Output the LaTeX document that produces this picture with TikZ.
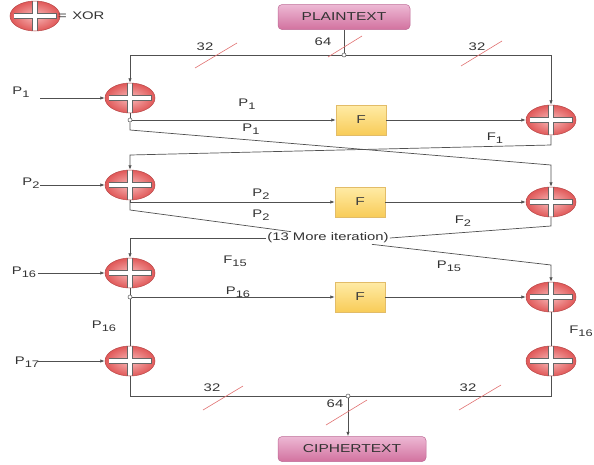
\documentclass[tikz,border=0pt]{standalone}
\usepackage{fontspec}
\usepackage{graphicx}
\setmainfont{Liberation Sans}
\usetikzlibrary{shapes.geometric,arrows.meta}
\newcommand\sx[1]{\scalebox{1.35}[1]{#1}}
\newcommand\sbs[1]{\raisebox{-2.8pt}{\fontsize{9.5}{10}\selectfont #1}}
\definecolor{lncol}{HTML}{505050}
\definecolor{xin}{HTML}{F8B8B8}
\definecolor{xout}{HTML}{E05858}
\definecolor{xbd}{HTML}{B84848}
\definecolor{ftop}{HTML}{FFEBA6}
\definecolor{fbot}{HTML}{F8CC58}
\definecolor{fbd}{HTML}{E2BC68}
\definecolor{ptop}{HTML}{EDB8D4}
\definecolor{pbot}{HTML}{D2729F}
\definecolor{pbd}{HTML}{BE6A96}
\definecolor{slash}{HTML}{E07070}
\tikzset{
  xor/.style={ellipse, minimum width=50pt, minimum height=30pt, inner sep=0pt,
    draw=xbd, line width=0.5pt, inner color=xin, outer color=xout,
    path picture={
      \coordinate (pc) at (path picture bounding box.center);
      \filldraw[white, draw=black!60, line width=0.8pt] ([xshift=-21pt,yshift=-2.6pt]pc) rectangle ([xshift=21pt,yshift=2.6pt]pc);
      \filldraw[white, draw=black!60, line width=0.8pt] ([xshift=-2.6pt,yshift=-16pt]pc) rectangle ([xshift=2.6pt,yshift=16pt]pc);
      \fill[white] ([xshift=-20.6pt,yshift=-2.1pt]pc) rectangle ([xshift=20.6pt,yshift=2.1pt]pc);
      \fill[white] ([xshift=-2.1pt,yshift=-16pt]pc) rectangle ([xshift=2.1pt,yshift=16pt]pc);
    }},
  fbox/.style={rectangle, minimum width=50pt, minimum height=30pt, inner sep=0pt,
    draw=fbd, line width=0.5pt, top color=ftop, bottom color=fbot,
    font=\fontsize{11.5}{13}\selectfont, text=black!75},
  tbox/.style={rectangle, rounded corners=4pt, minimum height=25pt, inner sep=0pt,
    draw=pbd, line width=0.5pt, top color=ptop, bottom color=pbot,
    font=\fontsize{11.5}{13}\selectfont, text=black!80},
  ln/.style={draw=lncol, line width=0.7pt},
  arr/.style={ln, -{Latex[length=4.5pt,width=3.5pt]}},
  dot/.style={circle, draw=lncol, fill=white, line width=0.5pt, minimum size=4pt, inner sep=0pt},
  lbl/.style={font=\fontsize{11}{12}\selectfont, text=black!80, inner sep=0pt},
  sl/.style={draw=slash, line width=0.6pt},
}
\begin{document}
\begin{tikzpicture}[x=1pt,y=-1pt]
\useasboundingbox (0,0) rectangle (594,464);
% legend
\node[xor] (lx) at (35,16) {};
\node[lbl, anchor=west] (lxt) at (58,16) {\sx{=\hspace{4pt}XOR}};
% boxes
\node[tbox, minimum width=132pt] (plain) at (344,17) {\sx{PLAINTEXT}};
\node[tbox, minimum width=148pt] (cipher) at (352,449) {\sx{CIPHERTEXT}};
% xor nodes
\node[xor] (L1) at (130,98) {};
\node[xor] (R1) at (551,120) {};
\node[xor] (L2) at (130,185) {};
\node[xor] (R2) at (551,202) {};
\node[xor] (L3) at (130,273) {};
\node[xor] (R3) at (551,297) {};
\node[xor] (L4) at (130,361) {};
\node[xor] (R4) at (551,361) {};
% F boxes
\node[fbox] (F1) at (361,120) {\sx{F}};
\node[fbox] (F2) at (360,202) {\sx{F}};
\node[fbox] (F3) at (360,297) {\sx{F}};
% junctions
\node[dot] (j1) at (344,55) {};
\node[dot] (c1) at (130,120) {};
\node[dot] (c3) at (130,297) {};
\node[dot] (j2) at (348,396) {};
% iteration text
\node[lbl, fill=white, inner sep=1pt] (more) at (328,238) {\sx{(13 More iteration)}};
% input coordinates
\coordinate (i1) at (40,98);
\coordinate (i2) at (40,185);
\coordinate (i3) at (38,273);
\coordinate (i4) at (38,361);
% top distribution
\draw[ln] (plain) -- (j1);
\draw[arr] (j1) -| (L1);
\draw[arr] (j1) -| (R1);
% inputs
\draw[arr] (i1) -- (L1);
\draw[arr] (i2) -- (L2);
\draw[arr] (i3) -- (L3);
\draw[arr] (i4) -- (L4);
% round 1
\draw[ln] (L1) -- (c1);
\draw[arr] (c1) -- (F1);
\draw[arr] (F1) -- (R1);
\draw[arr] (c1) -- (130,130) -- (551,165) -- (R2);
\draw[arr] (R1) -- (551,145) -- (130,155) -- (L2);
% round 2
\draw[arr] (L2) |- (F2);
\draw[arr] (F2) -- (R2);
\draw[ln] (L2.south) -- (130,210) -- ([xshift=25pt]more.north west);
\draw[ln] (R2) -- (551,226) -- (more.east);
\draw[arr] (more.west) -| (L3);
\draw[arr] ([xshift=-18pt]more.south east) -- (551,265) -- (R3);
% round 16
\draw[ln] (L3) -- (c3);
\draw[arr] (c3) -- (F3);
\draw[arr] (F3) -- (R3);
\draw[ln] (c3) -- (L4);
\draw[ln] (R3) -- (R4);
% output
\draw[ln] (L4) |- (j2);
\draw[ln] (j2) -| (R4);
\draw[arr] (j2) -- (j2 |- cipher.north);
% bit-width slashes
\draw[sl] (195,68) -- (237,43);
\draw[sl] (328,57) -- (362,36);
\draw[sl] (461,66) -- (502,41);
\draw[sl] (203,410) -- (243,386);
\draw[sl] (326,425) -- (367,400);
\draw[sl] (459,410) -- (501,385);
\node[lbl] (w1) at (205,47) {\sx{32}};
\node[lbl] (w2) at (323,42) {\sx{64}};
\node[lbl] (w3) at (477,47) {\sx{32}};
\node[lbl] (w4) at (212,388) {\sx{32}};
\node[lbl] (w5) at (335,404) {\sx{64}};
\node[lbl] (w6) at (468,388) {\sx{32}};
% labels
\node[lbl] (lp1) at (21,92) {\sx{P\sbs{1}}};
\node[lbl] (lp2) at (31,183) {\sx{P\sbs{2}}};
\node[lbl] (lp16) at (24,272) {\sx{P\sbs{16}}};
\node[lbl] (lp17) at (27,362) {\sx{P\sbs{17}}};
\node[lbl] (a1) at (247,104) {\sx{P\sbs{1}}};
\node[lbl] (b1) at (251,129) {\sx{P\sbs{1}}};
\node[lbl] (f1) at (495,138) {\sx{F\sbs{1}}};
\node[lbl] (a2) at (261,194) {\sx{P\sbs{2}}};
\node[lbl] (b2) at (261,215) {\sx{P\sbs{2}}};
\node[lbl] (f2) at (463,221) {\sx{F\sbs{2}}};
\node[lbl] (f15) at (235,261) {\sx{F\sbs{15}}};
\node[lbl] (p15) at (449,266) {\sx{P\sbs{15}}};
\node[lbl] (a16) at (238,292) {\sx{P\sbs{16}}};
\node[lbl] (b16) at (104,326) {\sx{P\sbs{16}}};
\node[lbl] (f16) at (581,331) {\sx{F\sbs{16}}};
\end{tikzpicture}
\end{document}
